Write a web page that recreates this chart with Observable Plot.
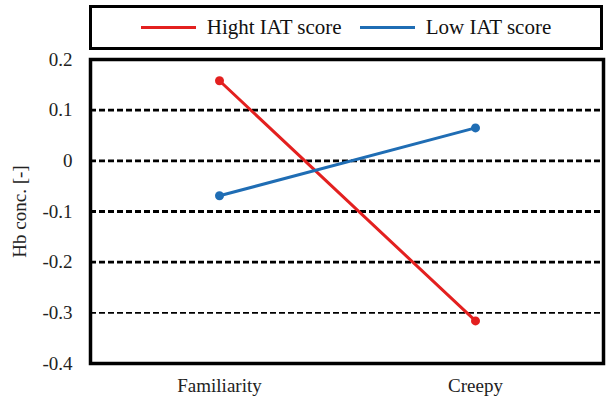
<!DOCTYPE html>
<html>
<head>
<meta charset="utf-8">
<script src="https://cdn.jsdelivr.net/npm/d3@7"></script>
<script src="https://cdn.jsdelivr.net/npm/@observablehq/plot@0.6"></script>
</head>
<body style="margin:0;background:white;font-family:'Liberation Serif', serif">
<div id="legend" style="position:relative;margin:5px 0 0 89px;width:514px;height:45px;box-sizing:border-box;border:3px solid black;display:flex;align-items:center;justify-content:center;font-size:21px;color:#111"></div>
<div id="chart"></div>
<script>
const categories = ["Familiarity", "Creepy"];
const seriesNames = ["Hight IAT score", "Low IAT score"];
const highValues = [0.158, -0.316];
const lowValues = [-0.069, 0.065];
const yTicks = [0.2, 0.1, 0, -0.1, -0.2, -0.3, -0.4];
const gridLines = [0.1, 0, -0.1, -0.2];
const thinGrid = [-0.3];
const colors = ["#e3201f", "#1f6db4"];

const data = [
  ...categories.map((c, i) => ({cat: c, value: highValues[i], series: seriesNames[0]})),
  ...categories.map((c, i) => ({cat: c, value: lowValues[i], series: seriesNames[1]}))
];

const legend = document.getElementById("legend");
seriesNames.forEach((s, i) => {
  const it = document.createElement("div");
  it.style.cssText = "display:flex;align-items:center;margin:0 9px";
  const sw = document.createElement("span");
  sw.style.cssText = `display:inline-block;width:55px;height:3px;margin-right:11px;background:${colors[i]}`;
  const tx = document.createElement("span");
  tx.textContent = s;
  it.appendChild(sw);
  it.appendChild(tx);
  legend.appendChild(it);
});

const chart = Plot.plot({
  width: 606,
  height: 351,
  marginLeft: 90,
  marginRight: 3,
  marginTop: 9,
  marginBottom: 38,
  style: {fontFamily: "'Liberation Serif', serif", fontSize: "19px", color: "#222", background: "white"},
  x: {type: "point", domain: categories, padding: 0.5, label: null},
  y: {domain: [-0.4, 0.2], label: null},
  color: {domain: seriesNames, range: colors},
  marks: [
    Plot.ruleY(gridLines, {stroke: "black", strokeWidth: 2.8, strokeDasharray: "6,3"}),
    Plot.ruleY(thinGrid, {stroke: "black", strokeWidth: 1.6, strokeDasharray: "6,3"}),
    Plot.frame({stroke: "black", strokeWidth: 3.5}),
    Plot.axisY({ticks: yTicks, tickSize: 0, tickPadding: 18, tickFormat: d => d === 0 ? "0" : d.toFixed(1),
      label: "Hb conc. [-]", labelAnchor: "center", labelOffset: 78, labelArrow: "none"}),
    Plot.axisX({tickSize: 0, tickPadding: 15, label: null}),
    Plot.line(data, {x: "cat", y: "value", z: "series", stroke: "series", strokeWidth: 3}),
    Plot.dot(data, {x: "cat", y: "value", fill: "series", r: 4.5})
  ]
});
document.getElementById("chart").appendChild(chart);
</script>
</body>
</html>
